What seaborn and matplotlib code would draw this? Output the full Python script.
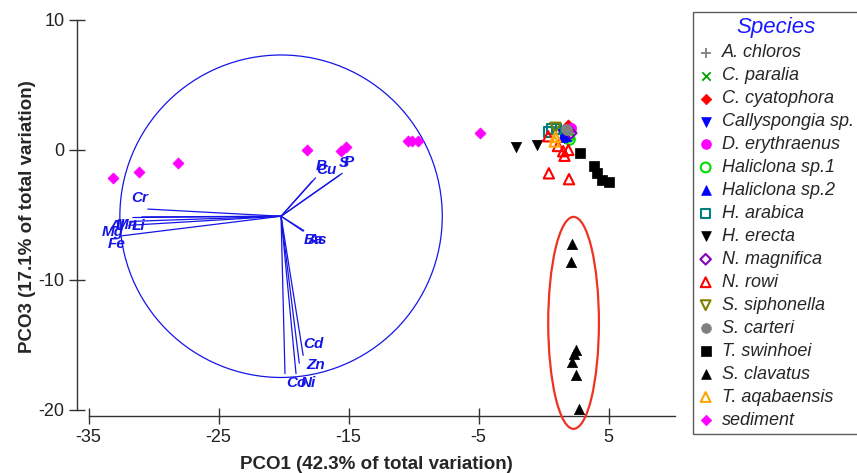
import numpy as np
import pandas as pd
import matplotlib
matplotlib.use("Agg")
import matplotlib.pyplot as plt
from matplotlib.patches import Circle, Ellipse
import seaborn as sns

# sample scores (PCO1, PCO3) per species
species = ["A. chloros", "C. paralia", "C. cyatophora", "Callyspongia sp.",
           "D. erythraenus", "Haliclona sp.1", "Haliclona sp.2", "H. arabica",
           "H. erecta", "N. magnifica", "N. rowi", "S. siphonella", "S. carteri",
           "T. swinhoei", "S. clavatus", "T. aqabaensis", "sediment"]
pco1 = {
    "A. chloros": [1.2],
    "C. paralia": [1.4],
    "C. cyatophora": [1.9, 2.0],
    "Callyspongia sp.": [1.5, 1.6],
    "D. erythraenus": [2.1],
    "Haliclona sp.1": [2.0, 1.9],
    "Haliclona sp.2": [1.4, 1.7],
    "H. arabica": [0.6, 0.4, 1.0],
    "H. erecta": [-2.1, -0.5],
    "N. magnifica": [2.1],
    "N. rowi": [0.4, 1.95, 0.35, 1.1, 1.5, 1.6, 1.9],
    "S. siphonella": [0.9],
    "S. carteri": [1.8, 1.75],
    "T. swinhoei": [2.8, 3.85, 4.1, 4.45, 5.05],
    "S. clavatus": [2.15, 2.1, 2.45, 2.3, 2.15, 2.5, 2.7],
    "T. aqabaensis": [0.85, 0.9],
    "sediment": [-33.15, -31.1, -28.15, -18.2, -15.6, -15.2, -10.45, -10.1, -9.7, -4.9],
}
pco3 = {
    "A. chloros": [1.6],
    "C. paralia": [1.5],
    "C. cyatophora": [1.9, 1.6],
    "Callyspongia sp.": [1.2, 0.9],
    "D. erythraenus": [1.7],
    "Haliclona sp.1": [0.8, 1.0],
    "Haliclona sp.2": [1.0, 1.1],
    "H. arabica": [1.6, 1.4, 1.6],
    "H. erecta": [0.2, 0.4],
    "N. magnifica": [1.3],
    "N. rowi": [-1.8, -2.25, 1.05, 0.3, -0.1, -0.45, 0.0],
    "S. siphonella": [1.7],
    "S. carteri": [1.5, 1.6],
    "T. swinhoei": [-0.2, -1.25, -1.8, -2.3, -2.5],
    "S. clavatus": [-7.2, -8.6, -15.4, -15.7, -16.3, -17.3, -19.95],
    "T. aqabaensis": [0.65, 1.0],
    "sediment": [-2.15, -1.7, -1.0, 0.0, -0.05, 0.25, 0.7, 0.7, 0.7, 1.3],
}

# correlation vectors (origin at circle centre)
vec_origin = (-20.2, -5.1)
vec_names = ["Cr", "Al", "Mn", "Li", "Mg", "Fe", "Cu", "B", "S", "P",
             "Ba", "As", "Cd", "Zn", "Co", "Ni"]
vec_x = [-30.45, -31.6, -31.8, -30.9, -31.9, -32.4, -17.55, -17.8, -15.5, -15.7,
         -18.45, -18.5, -18.5, -18.8, -19.9, -19.05]
vec_y = [-4.55, -5.2, -5.5, -5.15, -5.8, -6.6, -2.15, -2.4, -1.8, -1.95,
         -6.2, -6.25, -15.8, -16.4, -17.2, -17.2]
lbl_x = [-31.1, -32.85, -32.1, -31.2, -33.15, -32.85, -16.7, -17.1, -15.4, -15.0,
         -17.7, -17.45, -17.7, -17.55, -19.0, -18.1]
lbl_y = [-3.7, -5.85, -5.75, -5.85, -6.3, -7.25, -1.55, -1.25, -1.0, -0.9,
         -6.9, -6.9, -14.9, -16.55, -17.9, -17.9]
circle_r = 12.4

# marker style per species: (marker, colour, filled)
styles = {
    "A. chloros": ("+", "#808080", True),
    "C. paralia": ("x", "#00a000", True),
    "C. cyatophora": ("D", "#ff0000", True),
    "Callyspongia sp.": ("v", "#0000ff", True),
    "D. erythraenus": ("o", "#ff00ff", True),
    "Haliclona sp.1": ("o", "#00dd00", False),
    "Haliclona sp.2": ("^", "#0000ff", True),
    "H. arabica": ("s", "#008080", False),
    "H. erecta": ("v", "#000000", True),
    "N. magnifica": ("D", "#8800bb", False),
    "N. rowi": ("^", "#ff0000", False),
    "S. siphonella": ("v", "#808000", False),
    "S. carteri": ("o", "#808080", True),
    "T. swinhoei": ("s", "#000000", True),
    "S. clavatus": ("^", "#000000", True),
    "T. aqabaensis": ("^", "#ffa500", False),
    "sediment": ("D", "#ff00ff", True),
}
sizes = {"D": 32, "s": 48, "o": 55, "^": 55, "v": 55, "+": 60, "x": 40}

BLUE = "#1515e6"

sns.set_theme(style="ticks")
plt.rcParams["font.family"] = ["Liberation Sans", "DejaVu Sans"]
plt.rcParams["axes.unicode_minus"] = False

fig = plt.figure(figsize=(8.57, 4.73), dpi=100)
ax = fig.add_axes([0.0898, 0.1195, 0.6978, 0.8467])

# vectors and circle
rows = []
for i, name in enumerate(vec_names):
    rows.append({"vec": name, "x": vec_origin[0], "y": vec_origin[1]})
    rows.append({"vec": name, "x": vec_x[i], "y": vec_y[i]})
vec_df = pd.DataFrame(rows)
sns.lineplot(data=vec_df, x="x", y="y", units="vec", estimator=None, sort=False,
             color=BLUE, lw=0.9, ax=ax, legend=False)
ax.add_patch(Circle(vec_origin, circle_r, fill=False, ec=BLUE, lw=0.9))
for i, name in enumerate(vec_names):
    ax.text(lbl_x[i], lbl_y[i], name, color=BLUE, fontsize=11, fontweight="bold",
            fontstyle="italic", ha="center", va="center")

# samples
order = ["sediment"] + [s for s in species if s != "sediment"]
for sp in order:
    m, c, filled = styles[sp]
    d = pd.DataFrame({"x": pco1[sp], "y": pco3[sp]})
    kw = dict(marker=m, s=sizes[m], ax=ax, label=sp, zorder=3)
    if m in "+x":
        kw.update(color=c, linewidth=1.3)
    elif filled:
        kw.update(color=c, edgecolor=c, linewidth=0.5)
    else:
        kw.update(facecolor="none", edgecolor=c, linewidth=1.5)
    sns.scatterplot(data=d, x="x", y="y", **kw)

# highlight S. clavatus group
ax.add_patch(Ellipse((2.3, -13.3), 3.9, 16.3, fill=False, ec="#ee3322", lw=1.6,
                     clip_on=False, zorder=4))

ax.set_xlim(-35.9, 10.1)
ax.set_ylim(-20.5, 10.3)
ax.set_xticks([-35, -25, -15, -5, 5])
ax.set_yticks([-20, -10, 0, 10])
ax.spines["top"].set_visible(False)
ax.spines["right"].set_visible(False)
ax.spines["left"].set_bounds(-20, 10)
ax.spines["bottom"].set_bounds(-35, 10.1)
for sp in ("left", "bottom"):
    ax.spines[sp].set_color("#333333")
    ax.spines[sp].set_linewidth(1.0)
ax.tick_params(direction="inout", length=12, width=1, color="#333333",
               labelsize=13, labelcolor="#222222", pad=3)
ax.set_xlabel("PCO1 (42.3% of total variation)", fontsize=13.5,
              fontweight="bold", labelpad=7)
ax.set_ylabel("PCO3 (17.1% of total variation)", fontsize=13.5,
              fontweight="bold", labelpad=2)

handles, labels = ax.get_legend_handles_labels()
if ax.get_legend() is not None:
    ax.get_legend().remove()
hmap = dict(zip(labels, handles))
leg = fig.legend([hmap[s] for s in species], species, loc="upper left",
                 bbox_to_anchor=(693 / 857, 1 - 12 / 473), borderaxespad=0,
                 frameon=True, fancybox=False, edgecolor="#333333",
                 prop={"size": 13, "style": "italic"}, title="Species",
                 labelspacing=0.33, handlelength=0.8, handletextpad=0.5,
                 borderpad=0.3, markerscale=0.95)
leg.get_frame().set_linewidth(1.0)
leg.get_title().set_color("#1a1aff")
leg.get_title().set_fontsize(16)
leg.get_title().set_fontstyle("italic")

fig.savefig("out.png", dpi=100)
